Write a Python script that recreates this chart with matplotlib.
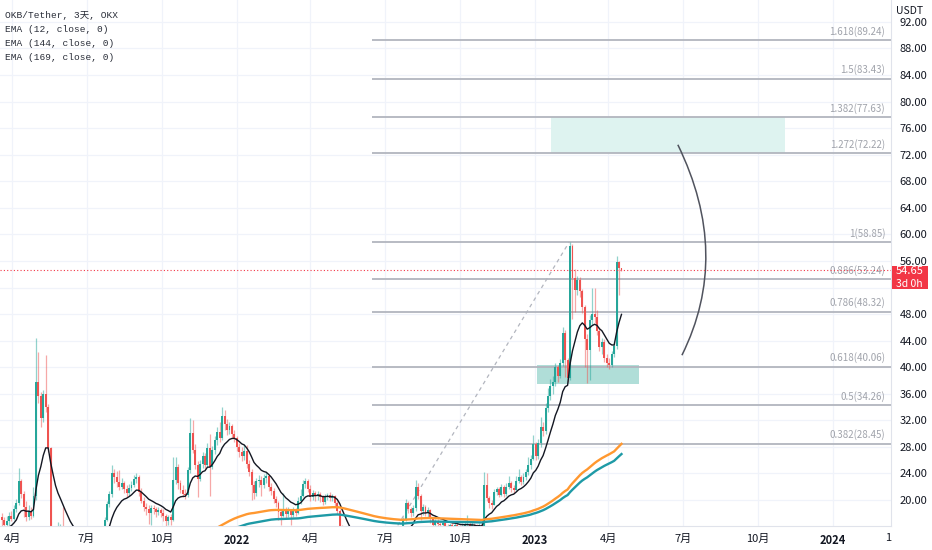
import numpy as np
import pandas as pd
import matplotlib as mpl
mpl.use("Agg")
import matplotlib.pyplot as plt
import matplotlib.dates as mdates
import matplotlib.transforms as mtransforms
from matplotlib.path import Path
from matplotlib.patches import PathPatch, Rectangle

# ---- OKB/USDT, 3-day candles (open = previous close) ----
first_candle = "2021-03-19"
first_open = 17.4
closes = [
    17.0, 16.2, 16.8, 17.6, 17.2, 18.6, 19.6, 22.8, 20.9, 19.0,
    17.5, 18.4, 17.6, 20.6, 37.8, 35.6, 32.4, 36.0, 34.0, 27.8,
    13.5, 14.0, 13.0, 14.8, 15.6, 14.4, 13.6, 13.0, 12.4, 12.9,
    12.2, 12.8, 13.4, 12.9, 12.3, 12.0, 12.6, 13.2, 12.9, 13.6,
    14.3, 15.0, 17.0, 19.4, 20.9, 24.0, 23.4, 22.7, 22.0, 22.6,
    21.6, 21.0, 21.8, 22.3, 23.2, 23.4, 21.2, 19.8, 19.0, 18.6,
    18.0, 18.8, 18.6, 18.2, 18.5, 18.1, 17.6, 16.8, 17.4, 17.0,
    23.0, 25.0, 22.6, 21.5, 20.9, 20.7, 24.5, 30.1, 27.6, 25.2,
    23.2, 25.4, 26.6, 25.2, 27.9, 25.0, 27.5, 29.0, 30.2, 29.4,
    32.6, 31.4, 30.6, 31.2, 30.0, 29.4, 28.0, 27.2, 26.6, 27.4,
    25.4, 24.2, 22.2, 21.0, 22.8, 23.0, 22.2, 23.3, 23.6, 22.0,
    21.4, 20.2, 19.6, 18.2, 17.6, 18.6, 17.9, 18.4, 17.8, 18.5,
    18.1, 19.8, 20.6, 22.4, 22.9, 21.6, 20.4, 21.1, 20.6, 20.9,
    20.4, 19.7, 20.5, 20.8, 20.3, 20.6, 19.6, 18.4, 16.0, 13.5,
    12.9, 12.2, 11.8, 12.4, 11.6, 11.0, 11.5, 11.2, 10.8, 10.6,
    10.3, 10.6, 11.2, 11.8, 12.3, 12.9, 13.4, 13.1, 13.7, 14.2,
    14.0, 14.6, 15.0, 14.8, 17.0, 19.5, 18.6, 18.0, 18.8, 22.0,
    20.6, 18.4, 19.0, 18.0, 18.5, 17.2, 16.3, 16.8, 16.4, 16.2,
    16.5, 16.0, 15.8, 16.2, 15.9, 16.3, 16.0, 15.7, 16.1, 16.2,
    16.4, 16.0, 16.3, 15.9, 15.6, 16.2, 15.8, 22.3, 20.3, 19.6,
    19.3, 21.2, 21.6, 20.8, 21.9, 20.9, 22.0, 22.6, 21.8, 21.5,
    22.9, 23.5, 22.7, 23.4, 24.2, 25.2, 26.2, 28.4, 26.6, 28.6,
    31.0, 30.4, 33.8, 35.6, 37.2, 37.8, 40.0, 38.6, 40.6, 45.2,
    41.1, 38.4, 58.2, 53.4, 51.6, 53.2, 51.4, 49.0, 44.2, 42.6,
    47.1, 48.0, 47.6, 45.4, 43.0, 43.8, 41.4, 40.6, 40.3, 42.0,
    43.2, 55.8, 54.9, 54.65,
]
highs = [
    18.0, 17.5, 17.6, 18.2, 18.4, 19.3, 20.2, 24.8, 23.2, 21.4,
    19.8, 19.2, 19.0, 21.9, 44.4, 42.3, 36.2, 36.6, 41.8, 34.4,
    28.0, 15.8, 14.8, 16.7, 16.4, 18.9, 15.2, 14.2, 13.6, 13.5,
    13.3, 13.4, 14.0, 13.9, 13.2, 12.9, 13.1, 13.8, 13.6, 14.1,
    15.0, 15.8, 17.4, 19.8, 21.4, 25.3, 24.6, 24.4, 24.5, 23.3,
    22.9, 22.2, 22.4, 22.9, 23.8, 24.1, 23.8, 21.8, 20.4, 19.5,
    19.2, 19.3, 19.2, 18.9, 19.0, 18.8, 18.6, 17.9, 17.8, 17.9,
    26.5, 26.4, 25.4, 23.0, 22.2, 21.6, 25.0, 32.3, 32.0, 28.4,
    25.8, 26.0, 27.2, 27.0, 28.6, 30.0, 28.2, 29.6, 31.0, 31.8,
    34.0, 33.6, 32.2, 31.8, 31.5, 30.6, 29.6, 28.6, 28.0, 28.3,
    28.3, 26.0, 24.6, 22.8, 23.3, 23.8, 23.6, 23.9, 24.2, 23.8,
    22.6, 21.8, 20.6, 19.9, 18.6, 21.0, 18.9, 19.0, 18.6, 18.9,
    18.8, 20.5, 21.6, 23.0, 23.3, 23.1, 22.2, 21.5, 21.4, 21.3,
    21.2, 20.8, 20.9, 21.0, 21.2, 20.9, 20.8, 19.8, 18.6, 16.2,
    14.0, 13.2, 12.8, 13.0, 12.6, 12.0, 12.1, 12.0, 11.6, 11.2,
    11.0, 11.0, 11.8, 12.4, 12.9, 13.4, 14.0, 13.9, 14.3, 14.8,
    14.9, 15.2, 15.6, 15.6, 17.5, 20.2, 19.9, 18.9, 19.2, 23.0,
    22.6, 20.9, 19.4, 19.3, 18.9, 18.6, 17.4, 17.2, 17.1, 16.8,
    16.9, 16.7, 16.4, 16.6, 16.5, 16.7, 16.6, 16.3, 16.5, 16.7,
    17.7, 16.8, 16.7, 16.6, 16.4, 16.6, 16.6, 24.2, 24.0, 20.6,
    20.0, 21.6, 22.0, 21.9, 22.4, 22.2, 22.6, 23.6, 22.8, 22.3,
    23.6, 24.6, 23.8, 24.0, 24.6, 26.5, 26.8, 29.8, 28.8, 29.2,
    32.5, 31.8, 34.6, 36.9, 38.2, 38.6, 40.6, 40.4, 41.2, 46.0,
    45.6, 41.4, 58.85, 58.6, 54.8, 53.8, 53.6, 51.8, 49.4, 45.0,
    47.8, 51.9, 52.0, 48.6, 46.0, 44.4, 44.2, 42.0, 41.4, 42.5,
    43.8, 56.7, 56.0, 54.9,
]
lows = [
    15.5, 15.8, 15.9, 16.3, 16.8, 17.0, 18.2, 19.2, 20.3, 17.4,
    16.8, 17.0, 17.2, 17.4, 20.0, 34.6, 31.0, 31.8, 33.2, 27.2,
    12.0, 12.0, 12.2, 12.8, 14.2, 13.8, 13.0, 12.3, 11.6, 12.0,
    11.5, 11.9, 12.5, 12.4, 11.8, 11.4, 11.8, 12.4, 12.5, 12.7,
    13.5, 14.1, 14.8, 16.8, 18.9, 20.5, 22.6, 22.0, 21.5, 21.6,
    21.0, 20.4, 20.6, 21.4, 22.0, 22.6, 20.6, 19.6, 18.4, 17.8,
    16.4, 16.2, 17.9, 17.5, 17.7, 17.4, 16.8, 15.9, 16.3, 16.2,
    16.8, 22.4, 21.6, 21.0, 20.4, 20.2, 20.5, 24.0, 27.0, 24.6,
    20.4, 22.8, 24.8, 24.6, 25.0, 20.6, 24.6, 26.9, 28.3, 28.8,
    29.0, 30.6, 29.8, 29.9, 29.4, 28.7, 27.4, 26.4, 25.8, 26.0,
    24.8, 23.6, 20.0, 20.2, 20.6, 22.0, 20.6, 21.8, 22.6, 21.4,
    20.8, 19.5, 19.0, 17.0, 16.2, 17.4, 17.2, 17.4, 16.2, 17.5,
    17.6, 17.9, 19.4, 20.4, 21.8, 21.2, 19.8, 20.0, 19.9, 20.0,
    19.7, 19.2, 19.4, 20.0, 19.8, 19.8, 18.9, 17.9, 15.4, 12.8,
    12.0, 11.5, 11.0, 11.4, 11.0, 10.4, 10.7, 10.6, 10.2, 10.0,
    9.9, 9.67, 10.4, 11.0, 11.5, 12.0, 12.6, 12.5, 12.8, 13.4,
    13.4, 13.8, 14.2, 14.2, 14.6, 16.8, 18.0, 17.4, 17.6, 18.4,
    20.2, 17.0, 17.8, 17.6, 17.5, 16.5, 15.6, 15.9, 15.8, 15.5,
    15.7, 15.4, 15.2, 15.4, 15.3, 15.6, 15.5, 15.1, 15.3, 15.6,
    15.8, 15.5, 15.6, 15.3, 14.8, 15.0, 15.2, 15.6, 19.8, 18.8,
    18.6, 19.2, 20.8, 20.4, 20.6, 20.4, 20.6, 21.6, 21.2, 21.0,
    21.3, 22.6, 22.2, 22.4, 23.0, 23.8, 24.6, 26.0, 26.0, 26.2,
    28.0, 29.6, 30.0, 33.2, 35.0, 36.0, 37.2, 37.8, 38.4, 40.2,
    38.5, 37.8, 38.0, 47.2, 48.3, 50.8, 50.6, 48.2, 40.0, 37.6,
    38.0, 46.4, 46.6, 44.8, 42.4, 42.0, 40.8, 40.0, 39.8, 40.1,
    41.6, 42.8, 50.9, 54.5,
]

# EMA (12, 144, 169) on close; seeds = value carried in from earlier history
ema_periods = [12, 144, 169]
ema_seeds = [15.0, 3.3, 2.4]
ema_colors = ["#131722", "#ff9830", "#1e9aa6"]
ema_widths = [1.0, 1.7, 1.7]

# fib extension drawn from the June 2022 low to the Feb 2023 high
fib_ratios = ["1.618", "1.5", "1.382", "1.272", "1", "0.886", "0.786", "0.618", "0.5", "0.382"]
fib_values = [89.24, 83.43, 77.63, 72.22, 58.85, 53.24, 48.32, 40.06, 34.26, 28.45]
fib_anchor_dates = ["2022-06-15", "2023-02-12"]
fib_anchor_prices = [9.67, 58.85]

target_zone = ["2023-01-21", "2023-11-03", 72.22, 77.63]
support_zone = ["2023-01-03", "2023-05-09", 37.5, 40.4]
arc_dates = ["2023-06-25", "2023-08-30", "2023-06-30"]  # start, bend, end
arc_prices = [73.5, 56.9, 41.8]

last_price = 54.65
x_range = ["2021-03-17", "2024-03-12"]
y_range = [16.08, 95.3]

xtick_dates = ["2021-04-01", "2021-07-01", "2021-10-01", "2022-01-01", "2022-04-01",
               "2022-07-01", "2022-10-01", "2023-01-01", "2023-04-01", "2023-07-01",
               "2023-10-01", "2024-01-01"]
xtick_labels = ["4月", "7月", "10月", "2022", "4月", "7月", "10月", "2023", "4月",
                "7月", "10月", "2024"]
ytick_values = list(range(20, 93, 4))
ytick_hidden = [52]  # covered by the last-price tag

legend_lines = ["OKB/Tether, 3天, OKX", "EMA (12, close, 0)",
                "EMA (144, close, 0)", "EMA (169, close, 0)"]

UP = "#26a69a"
DOWN = "#ef5350"
narrow = ["Liberation Sans Narrow", "Noto Sans CJK SC"]


def ema(values, period, seed):
    a = 2.0 / (period + 1)
    e = seed
    out = []
    for v in values:
        e = e + a * (v - e)
        out.append(e)
    return np.array(out)


fig = plt.figure(figsize=(9.32, 5.5), dpi=100)
ax = fig.add_axes([0, 24 / 550, 891 / 932, 526 / 550])

closes = np.array(closes)
opens = np.r_[first_open, closes[:-1]]
highs = np.maximum(np.array(highs), np.maximum(opens, closes))
lows = np.minimum(np.array(lows), np.minimum(opens, closes))
dates = pd.date_range(first_candle, periods=len(closes), freq="3D")
x = mdates.date2num(dates)
col = np.where(closes >= opens, UP, DOWN)

# candles
ax.vlines(x, lows, highs, colors=col, lw=0.9, alpha=0.5, zorder=2)
body_lo = np.minimum(opens, closes)
body_h = np.maximum(np.abs(closes - opens), 0.12)
ax.bar(x, body_h, bottom=body_lo, width=2.4, color=col, linewidth=0, zorder=2.2)

# EMAs
for p, s, c, w in zip(ema_periods, ema_seeds, ema_colors, ema_widths):
    ax.plot(x, ema(closes, p, s), color=c, lw=w, zorder=3)

# fib lines + labels
trans = mtransforms.blended_transform_factory(ax.transAxes, ax.transData)
fib_start = mdates.datestr2num(fib_anchor_dates[0])
x_right = mdates.datestr2num(x_range[1])
ax.hlines(fib_values, fib_start, x_right, colors="#b2b5be", lw=1.3, zorder=1.5)
for r, v in zip(fib_ratios, fib_values):
    ax.annotate(f"{r}({v:.2f})", xy=(0.9935, v), xycoords=trans, xytext=(0, 2.5),
                textcoords="offset points", ha="right", va="bottom", fontsize=7,
                color="#a0a3ab", family=narrow)
ax.plot(mdates.datestr2num(fib_anchor_dates), fib_anchor_prices, color="#b2b5be",
        lw=0.9, ls=(0, (3, 3)), zorder=1.6)

# zones
for z, fc in [(target_zone, "#def3f0"), (support_zone, "#b0ded8")]:
    x0, x1 = mdates.datestr2num(z[0]), mdates.datestr2num(z[1])
    ax.add_patch(Rectangle((x0, z[2]), x1 - x0, z[3] - z[2], facecolor=fc,
                           edgecolor="none", zorder=1.4))

# arc
ad = mdates.datestr2num(arc_dates)
verts = [(ad[0], arc_prices[0]), (ad[1], arc_prices[1]), (ad[2], arc_prices[2])]
arc = Path(verts, [Path.MOVETO, Path.CURVE3, Path.CURVE3])
ax.add_patch(PathPatch(arc, facecolor="none", edgecolor="#50535e", lw=1.1, zorder=3))

# last price line and tag
ax.axhline(last_price, color="#f23645", lw=0.8, ls=(0, (1, 2)), zorder=3)
ax.add_patch(Rectangle((1.001, last_price - 2.9), 0.04, 3.45, transform=trans,
                       facecolor="#f23645", edgecolor="none", clip_on=False, zorder=5))
ax.text(1.0205, last_price - 0.15, f"{last_price:.2f}", transform=trans, ha="center",
        va="center", fontsize=8, color="white", family=narrow, zorder=6)
ax.text(1.0205, last_price - 2.1, "3d 0h", transform=trans, ha="center",
        va="center", fontsize=7.5, color="white", family=narrow, zorder=6)

# axes styling
ax.set_xlim(mdates.datestr2num(x_range))
ax.set_ylim(y_range)
ax.set_xticks(mdates.datestr2num(xtick_dates))
ax.set_xticklabels(xtick_labels)
for t in ax.get_xticklabels():
    t.set_family(narrow)
    if t.get_text().isdigit():
        t.set_fontweight("bold")
ax.yaxis.tick_right()
ax.set_yticks(ytick_values)
ax.set_yticklabels(["" if v in ytick_hidden else f"{v:.2f}" for v in ytick_values],
                   family=narrow)
ax.tick_params(axis="x", length=0, pad=6, labelsize=8, labelcolor="#131722")
ax.tick_params(axis="y", length=0, pad=6, labelsize=8, labelcolor="#131722")
ax.grid(True, color="#f0f3fa", lw=0.9)
ax.set_axisbelow(True)
for s in ["top", "left"]:
    ax.spines[s].set_visible(False)
for s in ["right", "bottom"]:
    ax.spines[s].set_color("#e0e3eb")

fig.text(896 / 932, 1 - 11 / 550, "USDT", fontsize=7.5, va="center",
         family=narrow, color="#131722")
fig.text(888 / 932, 1 - 538 / 550, "1", fontsize=8, ha="center", va="center",
         family=narrow, color="#131722")
for k, line in enumerate(legend_lines):
    fig.text(5 / 932, 1 - (15 + 14 * k) / 550, line, fontsize=6.8, va="center",
             color="#2a2e39", family=["Liberation Mono", "Noto Sans CJK SC"])

fig.savefig("out.png", dpi=100)
